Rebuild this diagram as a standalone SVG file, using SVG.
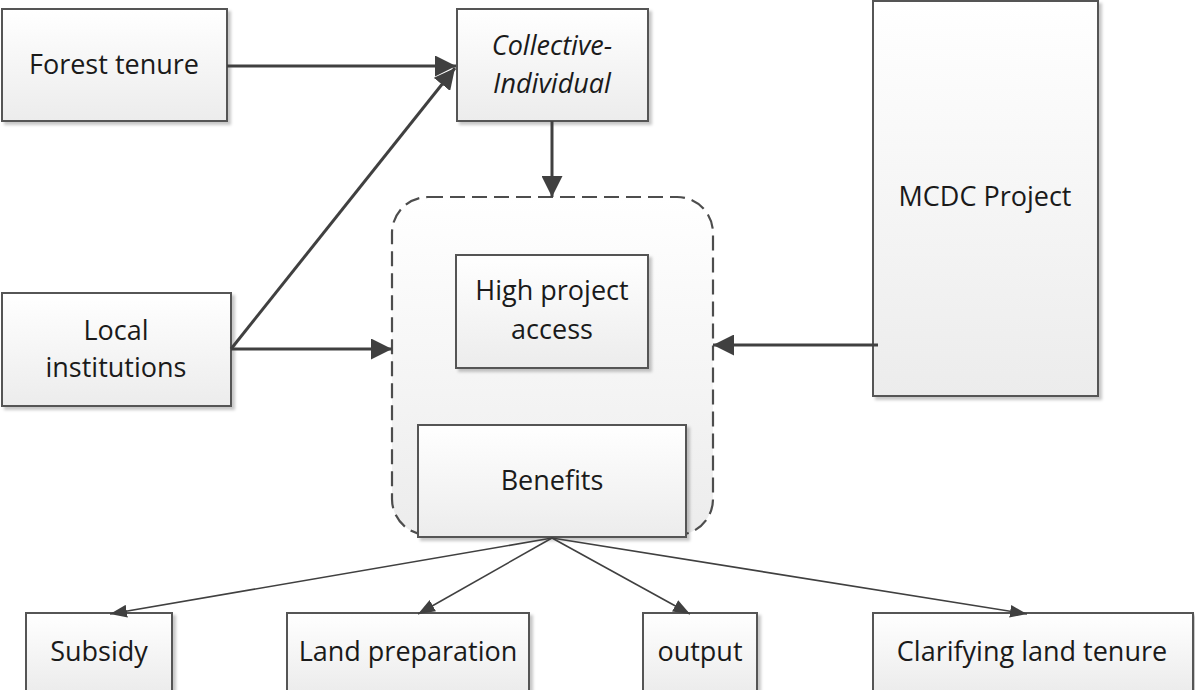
<svg xmlns="http://www.w3.org/2000/svg" width="1195" height="690" viewBox="0 0 1195 690">
  <defs>
    <linearGradient id="boxFill" x1="0" y1="0" x2="0" y2="1">
      <stop offset="0" stop-color="#ffffff"/>
      <stop offset="1" stop-color="#ececec"/>
    </linearGradient>
    <filter id="shadow" x="-10%" y="-10%" width="130%" height="130%">
      <feDropShadow dx="3" dy="3" stdDeviation="1.5" flood-color="#000000" flood-opacity="0.22"/>
    </filter>
    <marker id="headBig" viewBox="0 0 20 20" refX="20" refY="10" markerWidth="21" markerHeight="21" markerUnits="userSpaceOnUse" orient="auto">
      <path d="M0,0 L20,10 L0,20 Z" fill="#404040"/>
    </marker>
    <marker id="headSmall" viewBox="0 0 16 12" refX="16" refY="6" markerWidth="17" markerHeight="13" markerUnits="userSpaceOnUse" orient="auto">
      <path d="M0,0 L16,6 L0,12 Z" fill="#404040"/>
    </marker>
    <style>
      .box { fill: url(#boxFill); stroke: #555555; stroke-width: 2; filter: url(#shadow); }
      .group { fill: url(#boxFill); stroke: #4d4d4d; stroke-width: 2.2; stroke-dasharray: 15 7; }
      .label { font-family: "Open Sans", "Liberation Sans", sans-serif; font-size: 27px; fill: #1a1a1a; text-anchor: middle; }
      .italic { font-style: italic; }
      .thick { fill: none; stroke: #404040; stroke-width: 3; marker-end: url(#headBig); }
      .thin { fill: none; stroke: #404040; stroke-width: 1.6; marker-end: url(#headSmall); }
    </style>
  </defs>

  <rect width="1195" height="690" fill="#ffffff"/>

  <!-- dashed container around access and benefits -->
  <g id="project-group">
    <rect class="group" x="392" y="197" width="321" height="338" rx="36" ry="36"/>
  </g>

  <g id="forest-tenure">
    <rect class="box" x="2" y="9" width="225" height="112"/>
    <text class="label" x="114" y="74">Forest tenure</text>
  </g>

  <g id="collective-individual">
    <rect class="box" x="457" y="9" width="191" height="112"/>
    <text class="label italic" x="552" y="55">Collective-</text>
    <text class="label italic" x="552" y="93">Individual</text>
  </g>

  <g id="mcdc-project">
    <rect class="box" x="873" y="1" width="225" height="395"/>
    <text class="label" x="985" y="206">MCDC Project</text>
  </g>

  <g id="local-institutions">
    <rect class="box" x="2" y="293" width="229" height="113"/>
    <text class="label" x="116" y="340">Local</text>
    <text class="label" x="116" y="377">institutions</text>
  </g>

  <g id="high-project-access">
    <rect class="box" x="456" y="255" width="192" height="113"/>
    <text class="label" x="552" y="300">High project</text>
    <text class="label" x="552" y="339">access</text>
  </g>

  <g id="benefits">
    <rect class="box" x="418" y="425" width="268" height="112"/>
    <text class="label" x="552" y="490">Benefits</text>
  </g>

  <g id="subsidy">
    <rect class="box" x="26" y="613" width="146" height="78"/>
    <text class="label" x="99" y="661">Subsidy</text>
  </g>

  <g id="land-preparation">
    <rect class="box" x="287" y="613" width="242" height="78"/>
    <text class="label" x="408" y="661">Land preparation</text>
  </g>

  <g id="output">
    <rect class="box" x="643" y="613" width="114" height="78"/>
    <text class="label" x="700" y="661">output</text>
  </g>

  <g id="clarifying-land-tenure">
    <rect class="box" x="873" y="613" width="320" height="78"/>
    <text class="label" x="1032" y="661">Clarifying land tenure</text>
  </g>

  <!-- connectors -->
  <g id="connectors">
    <line class="thick" x1="227" y1="66" x2="456" y2="66"/>
    <line class="thick" x1="231" y1="349" x2="455" y2="68"/>
    <line class="thick" x1="231" y1="349" x2="392" y2="349"/>
    <line class="thick" x1="552" y1="121" x2="552" y2="197"/>
    <line class="thick" x1="878" y1="345" x2="713" y2="345"/>
    <line class="thin" x1="552" y1="538" x2="110" y2="614"/>
    <line class="thin" x1="552" y1="538" x2="418" y2="614"/>
    <line class="thin" x1="552" y1="538" x2="690" y2="614"/>
    <line class="thin" x1="552" y1="538" x2="1027" y2="614"/>
  </g>
</svg>
